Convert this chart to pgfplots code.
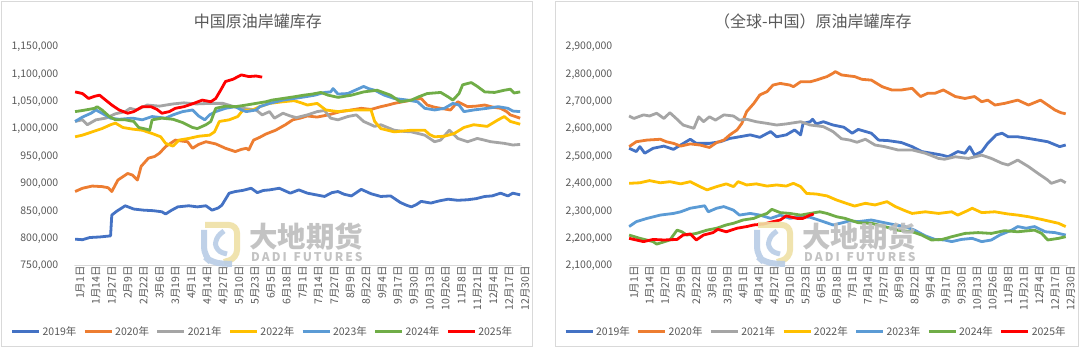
\documentclass[border=0pt]{standalone}
\usepackage{fontspec}
\setmainfont{Noto Sans CJK SC}
\usepackage{pgfplots}
\pgfplotsset{compat=1.18}
\definecolor{c19}{HTML}{4472C4}
\definecolor{c20}{HTML}{ED7D31}
\definecolor{c21}{HTML}{A5A5A5}
\definecolor{c22}{HTML}{FFC000}
\definecolor{c23}{HTML}{5B9BD5}
\definecolor{c24}{HTML}{70AD47}
\definecolor{c25}{HTML}{FF0000}
\definecolor{txt}{HTML}{595959}
\definecolor{frm}{HTML}{D9D9D9}
\definecolor{wm}{HTML}{BDBDBD}
\definecolor{logoY}{HTML}{EFE1A6}
\definecolor{logoB}{HTML}{B9CDE6}
\pgfplotsset{
 panel/.style={
  scale only axis, anchor=south west, height=219pt,
  xmin=-0.5, xmax=365.5,
  axis line style={draw=none},
  major tick length=0pt,
  xtick={0,13,...,364},
  xticklabels={1月1日,1月14日,1月27日,2月9日,2月22日,3月6日,3月19日,4月1日,4月14日,4月27日,5月10日,5月23日,6月5日,6月18日,7月1日,7月14日,7月27日,8月9日,8月22日,9月4日,9月17日,9月30日,10月13日,10月26日,11月8日,11月21日,12月4日,12月17日,12月30日},
  tick label style={font=\fontsize{10.5}{12}\selectfont, text=txt},
  xticklabel style={rotate=90, anchor=east, inner sep=0pt, yshift=-5pt},
  yticklabel style={inner sep=0pt, xshift=-16pt, /pgf/number format/.cd, fixed, precision=0, 1000 sep={,}, assume math mode=true},
  scaled y ticks=false,
  title style={anchor=center, yshift=20pt, font=\fontsize{16}{19}\selectfont, text=txt},
  legend columns=7,
  legend cell align=left,
  legend style={draw=none, fill=none, anchor=center, font=\fontsize{10.5}{12}\selectfont, text=txt,
    /tikz/every even column/.append style={column sep=5pt}},
  legend image code/.code={\draw[#1, line width=2.8pt] (0pt,0pt) -- (27pt,0pt);},
  every axis plot/.append style={line width=2.8pt, line join=round, no markers},
 }
}
\newcommand{\watermark}[1]{%
 \begin{scope}[shift={(#1,0)}, opacity=0.9]
  \draw[logoY, line width=6pt, rounded corners=8pt] (5,125) -- (37,125) -- (37,92) -- (24,88);
  \draw[logoB, line width=6pt, rounded corners=9pt] (4,120) -- (4,94) -- (12,87) -- (32,86);
  \draw[logoB, line width=5pt, rounded corners=7pt] (24,119) -- (15,112) -- (16,99) -- (27,96);
  \node[anchor=west, text=wm, font=\fontsize{28.5}{31}\selectfont\bfseries, inner sep=0pt] at (49,113) {大地期货};
  \node[anchor=west, text=wm, font=\fontsize{12}{13}\selectfont\bfseries, inner sep=0pt] at (51,93) {D\,A\,D\,I\, \,F\,U\,T\,U\,R\,E\,S};
 \end{scope}}
\begin{document}
\begin{tikzpicture}[x=1pt,y=1pt]
\useasboundingbox (0,0) rectangle (1080,350);
\fill[white] (0,0) rectangle (1080,350);
\draw[frm, line width=1pt] (1.5,3) rectangle (532,348.5);
\draw[frm, line width=1pt] (555,3) rectangle (1078.5,348.5);
% ---------------- left panel
\begin{axis}[panel, at={(74.5pt,84pt)}, width=447.5pt,
 ymin=750000, ymax=1150000,
 ytick={750000,800000,850000,900000,950000,1000000,1050000,1100000,1150000},
 title={中国原油岸罐库存}, title style={at={(0.41,1)}},
 legend style={at={(0.42,-0.30)}}]
\draw[frm, line width=1pt] (rel axis cs:0,0) -- (rel axis cs:1,0);
\addplot[c19] coordinates {(0,799000) (6,798000) (12,802000) (20,803000) (29,805000) (30,843000) (34,850000) (41,860000) (48,854000) (56,852000) (64,851000) (71,849000) (74,845000) (79,852000) (84,858000) (93,860000) (100,858000) (107,860000) (112,852000) (117,856000) (120,861000) (126,883000) (131,886000) (137,888000) (144,892000) (149,884000) (154,888000) (159,889000) (167,892000) (172,887000) (176,883000) (183,889000) (190,883000) (197,880000) (204,877000) (210,884000) (215,886000) (220,881000) (226,878000) (234,890000) (242,882000) (250,877000) (258,878000) (262,872000) (266,866000) (271,861000) (275,858000) (279,862000) (283,868000) (291,865000) (298,869000) (305,872000) (313,870000) (321,871000) (328,873000) (335,877000) (341,878000) (348,883000) (354,878000) (358,883000) (364,880000)};
\addplot[c20] coordinates {(0,886000) (6,892000) (14,896000) (22,895000) (27,893000) (30,886000) (35,907000) (43,919000) (47,916000) (51,907000) (54,932000) (60,947000) (65,950000) (69,956000) (74,968000) (82,980000) (88,978000) (92,977000) (96,965000) (101,972000) (107,977000) (115,973000) (123,965000) (131,959000) (136,963000) (140,965000) (142,962000) (146,980000) (151,985000) (156,991000) (164,998000) (172,1008000) (178,1017000) (184,1020000) (190,1024000) (198,1022000) (207,1026000) (217,1032000) (226,1035000) (234,1038000) (242,1036000) (250,1041000) (256,1044000) (261,1047000) (268,1050000) (275,1053000) (283,1056000) (288,1044000) (294,1040000) (299,1038000) (307,1035000) (313,1050000) (321,1041000) (328,1042000) (335,1044000) (342,1040000) (348,1038000) (353,1032000) (356,1026000) (364,1020000)};
\addplot[c21] coordinates {(0,1014000) (6,1017000) (10,1008000) (17,1017000) (25,1020000) (33,1028000) (41,1032000) (45,1038000) (50,1035000) (59,1044000) (69,1042000) (80,1046000) (89,1048000) (99,1046000) (110,1047000) (121,1047000) (130,1041000) (137,1038000) (148,1035000) (153,1026000) (159,1032000) (163,1020000) (170,1029000) (176,1024000) (181,1021000) (190,1026000) (198,1032000) (204,1034000) (209,1020000) (215,1017000) (223,1023000) (230,1026000) (236,1014000) (245,1005000) (250,1008000) (261,998000) (268,996000) (275,995000) (286,989000) (294,977000) (299,980000) (306,998000) (313,983000) (321,977000) (329,983000) (340,977000) (351,974000) (358,971000) (364,972000)};
\addplot[c22] coordinates {(0,986000) (6,989000) (14,995000) (22,1001000) (29,1008000) (33,1011000) (39,1003000) (47,1000000) (55,998000) (63,992000) (70,986000) (74,974000) (80,969000) (85,980000) (93,983000) (101,987000) (110,989000) (114,995000) (118,1014000) (126,1017000) (133,1023000) (137,1034000) (145,1035000) (151,1041000) (159,1047000) (170,1050000) (179,1052000) (185,1048000) (190,1044000) (198,1047000) (205,1035000) (215,1032000) (228,1035000) (242,1035000) (245,1014000) (250,1001000) (261,995000) (275,998000) (286,998000) (290,990000) (294,986000) (302,987000) (310,992000) (318,1003000) (326,1008000) (337,1005000) (346,1017000) (351,1023000) (356,1014000) (364,1009000)};
\addplot[c23] coordinates {(0,1014000) (6,1022000) (13,1029000) (17,1035000) (22,1029000) (29,1020000) (36,1018000) (47,1020000) (55,1017000) (63,1023000) (74,1020000) (80,1026000) (88,1032000) (96,1035000) (101,1024000) (106,1017000) (110,1026000) (115,1032000) (123,1038000) (131,1041000) (136,1035000) (140,1032000) (148,1035000) (151,1041000) (159,1047000) (170,1053000) (179,1056000) (188,1059000) (196,1062000) (204,1067000) (209,1068000) (211,1074000) (215,1064000) (223,1065000) (231,1073000) (236,1078000) (240,1074000) (245,1071000) (253,1062000) (261,1056000) (272,1053000) (280,1050000) (286,1038000) (294,1035000) (302,1038000) (309,1047000) (314,1044000) (318,1032000) (326,1035000) (337,1038000) (346,1041000) (354,1038000) (358,1033000) (364,1032000)};
\addplot[c24] coordinates {(0,1032000) (6,1034000) (16,1038000) (18,1041000) (22,1035000) (28,1023000) (33,1017000) (41,1017000) (48,1014000) (52,1003000) (58,1000000) (61,998000) (63,1017000) (71,1020000) (80,1018000) (88,1012000) (96,1003000) (100,1001000) (107,1008000) (111,1014000) (115,1038000) (123,1042000) (131,1041000) (140,1044000) (148,1047000) (156,1050000) (161,1053000) (170,1056000) (179,1059000) (187,1062000) (194,1064000) (201,1067000) (207,1062000) (215,1058000) (226,1062000) (236,1068000) (247,1071000) (258,1062000) (266,1050000) (275,1053000) (281,1059000) (288,1065000) (299,1067000) (305,1059000) (309,1053000) (314,1065000) (317,1081000) (324,1085000) (329,1078000) (335,1068000) (343,1067000) (351,1071000) (356,1073000) (359,1066000) (364,1068000)};
\addplot[c25] coordinates {(0,1068000) (6,1065000) (11,1056000) (16,1060000) (20,1062000) (25,1053000) (30,1044000) (36,1035000) (43,1029000) (48,1032000) (55,1041000) (62,1041000) (67,1036000) (71,1029000) (77,1032000) (82,1038000) (89,1041000) (97,1047000) (104,1053000) (111,1050000) (115,1056000) (119,1071000) (123,1087000) (129,1091000) (136,1099000) (142,1096000) (148,1097000) (153,1095000)};
\legend{2019年,2020年,2021年,2022年,2023年,2024年,2025年}
\end{axis}
% ---------------- right panel
\begin{axis}[panel, at={(628.5pt,84pt)}, width=439pt,
 ymin=2100000, ymax=2900000,
 ytick={2100000,2200000,2300000,2400000,2500000,2600000,2700000,2800000,2900000},
 title={（全球-中国）原油岸罐库存}, title style={at={(0.42,1)}},
 legend style={at={(0.427,-0.30)}}]
\draw[frm, line width=1pt] (rel axis cs:0,0) -- (rel axis cs:1,0);
\addplot[c19] coordinates {(0,2530000) (6,2518000) (9,2536000) (13,2512000) (20,2530000) (29,2538000) (37,2526000) (43,2542000) (51,2563000) (56,2548000) (67,2548000) (76,2554000) (84,2566000) (92,2572000) (101,2579000) (109,2570000) (118,2591000) (123,2572000) (131,2579000) (138,2597000) (143,2579000) (145,2621000) (151,2627000) (153,2636000) (156,2619000) (162,2627000) (170,2615000) (179,2607000) (186,2585000) (191,2599000) (202,2585000) (208,2560000) (216,2558000) (227,2551000) (236,2536000) (244,2518000) (252,2512000) (261,2505000) (266,2499000) (274,2518000) (280,2512000) (284,2536000) (288,2505000) (294,2518000) (299,2548000) (306,2579000) (311,2585000) (316,2572000) (324,2572000) (333,2566000) (341,2560000) (349,2554000) (359,2536000) (364,2542000)};
\addplot[c20] coordinates {(0,2536000) (6,2554000) (15,2560000) (26,2563000) (31,2554000) (37,2548000) (43,2538000) (51,2546000) (59,2542000) (67,2533000) (73,2551000) (79,2560000) (84,2579000) (90,2597000) (94,2621000) (98,2664000) (104,2694000) (109,2725000) (115,2737000) (120,2761000) (126,2767000) (134,2761000) (137,2755000) (143,2773000) (151,2773000) (156,2779000) (165,2792000) (170,2804000) (172,2810000) (177,2798000) (184,2794000) (188,2792000) (194,2782000) (202,2779000) (211,2755000) (219,2743000) (227,2743000) (236,2749000) (243,2719000) (249,2731000) (255,2731000) (262,2743000) (272,2719000) (280,2712000) (288,2719000) (294,2700000) (299,2706000) (305,2688000) (313,2694000) (324,2706000) (333,2688000) (343,2706000) (349,2688000) (355,2670000) (360,2660000) (364,2656000)};
\addplot[c21] coordinates {(0,2648000) (4,2639000) (12,2652000) (17,2648000) (23,2658000) (29,2639000) (34,2660000) (40,2636000) (45,2615000) (51,2607000) (54,2603000) (58,2645000) (62,2627000) (67,2645000) (72,2633000) (79,2652000) (87,2648000) (92,2633000) (98,2636000) (106,2627000) (115,2621000) (123,2615000) (131,2619000) (143,2627000) (151,2615000) (162,2609000) (170,2591000) (177,2565000) (184,2560000) (190,2552000) (197,2563000) (205,2542000) (213,2536000) (224,2524000) (236,2524000) (247,2512000) (258,2493000) (263,2490000) (272,2499000) (283,2493000) (294,2505000) (302,2493000) (311,2475000) (316,2469000) (324,2487000) (333,2463000) (341,2438000) (349,2414000) (352,2402000) (360,2414000) (364,2404000)};
\addplot[c22] coordinates {(0,2402000) (9,2404000) (17,2412000) (26,2404000) (34,2408000) (43,2400000) (51,2408000) (59,2390000) (65,2378000) (73,2390000) (81,2400000) (87,2390000) (91,2408000) (98,2396000) (106,2400000) (115,2392000) (123,2396000) (131,2392000) (137,2402000) (143,2390000) (148,2365000) (156,2363000) (165,2356000) (173,2341000) (181,2329000) (188,2319000) (197,2329000) (205,2323000) (215,2335000) (222,2317000) (230,2302000) (236,2292000) (247,2298000) (258,2292000) (269,2298000) (274,2286000) (283,2304000) (286,2311000) (294,2295000) (305,2298000) (316,2290000) (324,2286000) (333,2280000) (344,2270000) (352,2262000) (358,2256000) (364,2244000)};
\addplot[c23] coordinates {(0,2244000) (6,2262000) (15,2274000) (26,2286000) (37,2292000) (43,2298000) (51,2311000) (59,2317000) (63,2320000) (66,2298000) (73,2311000) (79,2317000) (87,2304000) (92,2286000) (101,2292000) (109,2286000) (118,2274000) (126,2286000) (134,2274000) (143,2280000) (151,2278000) (162,2262000) (170,2250000) (176,2256000) (184,2265000) (191,2262000) (202,2268000) (213,2258000) (222,2250000) (230,2244000) (238,2231000) (247,2210000) (255,2197000) (263,2195000) (269,2189000) (277,2197000) (286,2201000) (294,2189000) (302,2195000) (309,2213000) (319,2231000) (324,2244000) (331,2238000) (338,2244000) (347,2225000) (355,2222000) (364,2213000)};
\addplot[c24] coordinates {(0,2213000) (9,2201000) (20,2189000) (23,2180000) (34,2195000) (40,2231000) (44,2225000) (48,2213000) (56,2219000) (65,2231000) (73,2238000) (81,2250000) (87,2256000) (95,2268000) (104,2274000) (109,2283000) (115,2292000) (119,2307000) (126,2295000) (134,2292000) (143,2286000) (151,2292000) (159,2298000) (165,2292000) (173,2280000) (180,2274000) (191,2258000) (202,2256000) (213,2244000) (224,2231000) (236,2225000) (244,2213000) (252,2195000) (261,2197000) (269,2207000) (280,2219000) (291,2222000) (302,2219000) (313,2229000) (324,2225000) (338,2231000) (344,2219000) (349,2195000) (358,2201000) (364,2207000)};
\addplot[c25] coordinates {(0,2201000) (6,2195000) (12,2189000) (20,2197000) (29,2195000) (40,2197000) (45,2213000) (51,2217000) (56,2195000) (62,2213000) (70,2222000) (74,2234000) (81,2225000) (90,2238000) (98,2244000) (104,2250000) (112,2253000) (120,2262000) (126,2268000) (131,2283000) (140,2274000) (145,2274000) (151,2286000) (154,2290000)};
\legend{2019年,2020年,2021年,2022年,2023年,2024年,2025年}
\end{axis}
\watermark{200}
\watermark{753}
\end{tikzpicture}
\end{document}
